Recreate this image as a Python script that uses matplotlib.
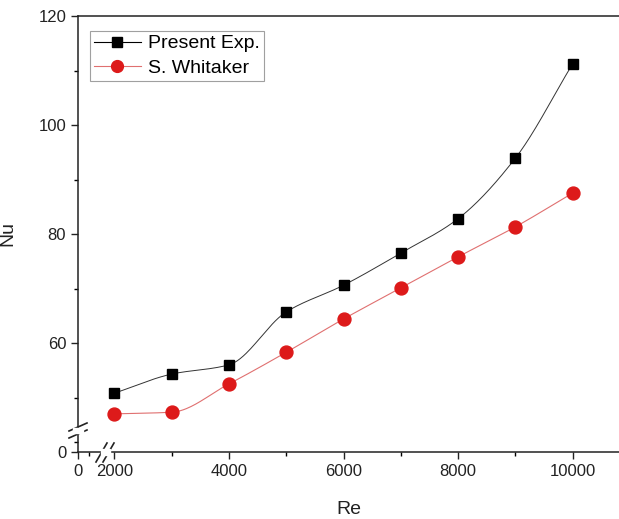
import numpy as np
import matplotlib.pyplot as plt
from matplotlib.lines import Line2D
from matplotlib.ticker import FixedLocator

plt.rcParams['font.family'] = ['Liberation Sans', 'DejaVu Sans']

re_vals = [2000, 3000, 4000, 5000, 6000, 7000, 8000, 9000, 10000]
nu_present = [50.8, 54.3, 56.0, 65.7, 70.6, 76.5, 82.8, 93.9, 111.2]
nu_whitaker = [47.0, 47.3, 52.5, 58.3, 64.4, 70.1, 75.8, 81.3, 87.5]

x_ticks = [1363, 2000, 4000, 6000, 8000, 10000]
x_tick_labels = ['0', '2000', '4000', '6000', '8000', '10000']
y_ticks = [40, 60, 80, 100, 120]
y_tick_labels = ['0', '60', '80', '100', '120']


def smooth(x, y, n=300):
    # monotone cubic (pchip) connector through the points
    x = np.asarray(x, float)
    y = np.asarray(y, float)
    h = np.diff(x)
    d = np.diff(y) / h
    m = np.zeros_like(y)
    for i in range(1, len(x) - 1):
        if d[i - 1] * d[i] > 0:
            w1 = 2 * h[i] + h[i - 1]
            w2 = h[i] + 2 * h[i - 1]
            m[i] = (w1 + w2) / (w1 / d[i - 1] + w2 / d[i])
    m[0] = d[0]
    m[-1] = d[-1]
    xs = np.linspace(x[0], x[-1], n)
    k = np.clip(np.searchsorted(x, xs) - 1, 0, len(x) - 2)
    t = (xs - x[k]) / h[k]
    h00 = 2 * t ** 3 - 3 * t ** 2 + 1
    h10 = t ** 3 - 2 * t ** 2 + t
    h01 = -2 * t ** 3 + 3 * t ** 2
    h11 = t ** 3 - t ** 2
    ys = h00 * y[k] + h10 * h[k] * m[k] + h01 * y[k + 1] + h11 * h[k] * m[k + 1]
    return xs, ys


W, H = 619, 519
fig = plt.figure(figsize=(W / 100, H / 100), dpi=100)
ax = fig.add_axes([78 / W, 1 - 452 / H, 1 - 78 / W, (452 - 16) / H])

red = '#dd1a1a'
xs, ys = smooth(re_vals, nu_present)
ax.plot(xs, ys, color='#333333', lw=0.7, zorder=2)
ax.plot(re_vals, nu_present, ls='none', marker='s', ms=7.8, color='black', zorder=3)
xs, ys = smooth(re_vals, nu_whitaker)
ax.plot(xs, ys, color='#e07070', lw=0.8, zorder=2)
ax.plot(re_vals, nu_whitaker, ls='none', marker='o', ms=9.3, color=red, zorder=3)

ax.set_xlim(1363, 10811)
ax.set_ylim(40, 120)
ax.set_xticks(x_ticks)
ax.set_xticklabels(x_tick_labels)
ax.set_yticks(y_ticks)
ax.set_yticklabels(y_tick_labels)
ax.xaxis.set_minor_locator(FixedLocator([1555, 3000, 5000, 7000, 9000]))
ax.yaxis.set_minor_locator(FixedLocator([41.8, 50, 70, 90, 110]))
ax.tick_params(which='major', direction='out', length=5, width=1, labelsize=12, colors='#222222')
ax.tick_params(which='minor', direction='out', length=3, width=1)
ax.tick_params(axis='x', which='both', top=False)
ax.tick_params(axis='y', which='both', right=False)
ax.spines['right'].set_visible(False)
for s in ('left', 'bottom', 'top'):
    ax.spines[s].set_linewidth(1.1)
    ax.spines[s].set_color('#222222')

ax.set_xlabel('Re', fontsize=14, labelpad=16, color='#222222')
ax.set_ylabel('Nu', fontsize=14, color='#222222')
ax.yaxis.set_label_coords(-62 / (W - 78), 0.5)

handles = [
    Line2D([], [], color='black', lw=0.8, marker='s', ms=7, label='Present Exp.'),
    Line2D([], [], color='#e07070', lw=0.8, marker='o', markerfacecolor=red,
           markeredgecolor=red, ms=8.5, label='S. Whitaker'),
]
leg = ax.legend(handles=handles, loc='upper left', bbox_to_anchor=(12 / (W - 78), 1 - 15 / 436),
                fontsize=14, frameon=True, fancybox=False, borderpad=0.2, labelspacing=0.35,
                handlelength=2.4, handletextpad=0.4, borderaxespad=0)
leg.get_frame().set_edgecolor('#888888')
leg.get_frame().set_linewidth(0.8)


def px(x, y):
    return (x / W, 1 - y / H)


# axis breaks, drawn in figure pixels
def brk(x0, y0, x1, y1):
    fig.add_artist(Line2D([x0 / W, x1 / W], [1 - y0 / H, 1 - y1 / H], color='#222222', lw=1.2))


# y-axis break
fig.add_artist(plt.Rectangle(px(73, 433), 10 / W, 5 / H, color='white', zorder=5))
brk(69, 431, 87, 423)
brk(69, 438, 87, 430)
# x-axis break
fig.add_artist(plt.Rectangle(px(101, 455), 9 / W, 6 / H, color='white', zorder=5))
brk(96, 462, 107, 443)
brk(103, 462, 114, 443)

fig.savefig('out.png', dpi=100)
